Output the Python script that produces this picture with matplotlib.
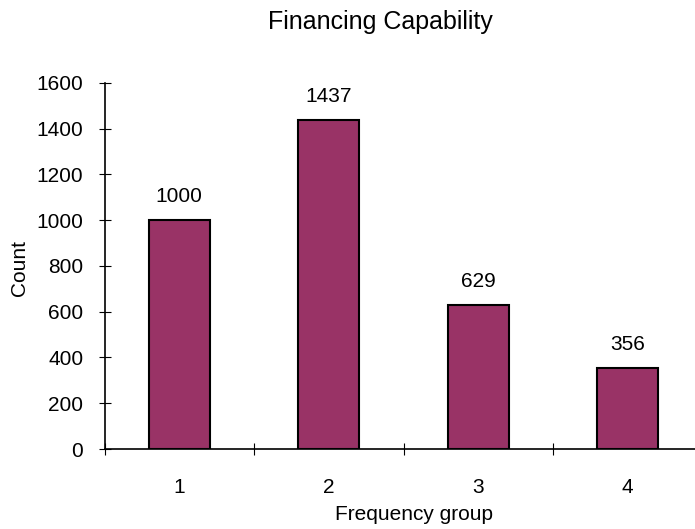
import matplotlib
matplotlib.use("Agg")
import matplotlib.pyplot as plt

groups = ["1", "2", "3", "4"]
counts = [1000, 1437, 629, 356]
y_ticks = [0, 200, 400, 600, 800, 1000, 1200, 1400, 1600]

plt.rcParams["font.family"] = ["Liberation Sans", "DejaVu Sans"]

fig = plt.figure(figsize=(6.95, 5.29), dpi=100)
# axes runs slightly past the right edge, like the original
ax = fig.add_axes([0.1504, 0.1512, 0.8604, 0.692])

x = list(range(len(groups)))
ax.bar(x, counts, width=0.41, color="#993366", edgecolor="black", linewidth=1.5, zorder=3)

for xi, c in zip(x, counts):
    ax.annotate(str(c), (xi, c), xytext=(0, 10), textcoords="offset points",
                ha="center", va="bottom", fontsize=15)

ax.set_xlim(-0.5, len(groups) - 0.5)
ax.set_ylim(0, 1600)
ax.set_yticks(y_ticks)
ax.set_xticks(x)
ax.set_xticklabels(groups)
ax.set_xticks([i + 0.5 for i in range(-1, len(groups))], minor=True)

ax.spines["top"].set_visible(False)
ax.spines["right"].set_visible(False)
ax.spines["left"].set_linewidth(1.2)
ax.spines["bottom"].set_linewidth(1.2)

ax.tick_params(axis="y", direction="inout", length=8.5, width=0.8, labelsize=15, pad=11)
ax.tick_params(axis="x", which="major", length=0, labelsize=15, pad=21)
ax.tick_params(axis="x", which="minor", direction="inout", length=8.5, width=0.8)

fig.text(380 / 695, 1 - 22 / 529, "Financing Capability", ha="center", va="center", fontsize=18)
fig.text(414 / 695, 1 - 514 / 529, "Frequency group", ha="center", va="center", fontsize=15)
fig.text(20 / 695, 1 - 268 / 529, "Count", ha="center", va="center", rotation=90, fontsize=15)

fig.savefig("out.png", dpi=100)
